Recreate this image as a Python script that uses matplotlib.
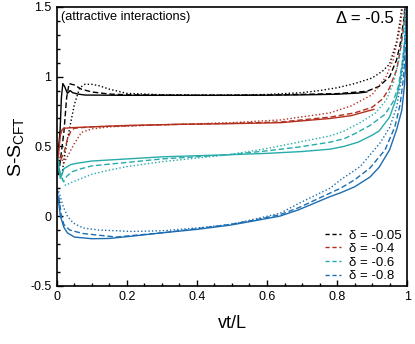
import numpy as np
import matplotlib
matplotlib.use("Agg")
import matplotlib.pyplot as plt
from matplotlib.ticker import MultipleLocator, FormatStrFormatter

plt.rcParams['font.family'] = ['Liberation Sans', 'DejaVu Sans']

# ---- data (vt/L, S - S_CFT) ----
deltas = ["-0.05", "-0.4", "-0.6", "-0.8"]
colors = ["black", "#b3301f", "#27abab", "#1c6db1"]

# black, delta = -0.05
blk_solid_x = [0.0, 0.003, 0.009, 0.013, 0.017, 0.022, 0.03, 0.038, 0.045, 0.06, 0.08, 0.2, 0.35, 0.5, 0.6, 0.7, 0.8, 0.86, 0.885]
blk_solid_y = [0.3, 0.45, 0.6, 0.85, 0.95, 0.93, 0.88, 0.9, 0.885, 0.875, 0.868, 0.866, 0.866, 0.866, 0.867, 0.869, 0.874, 0.882, 0.89]
blk_dash_x = [0.005, 0.01, 0.02, 0.028, 0.035, 0.05, 0.07, 0.1, 0.15, 0.2, 0.4, 0.6, 0.8, 0.85, 0.885, 0.92, 0.95, 0.97, 0.98, 0.99, 0.996]
blk_dash_y = [0.3, 0.4, 0.6, 0.85, 0.95, 0.94, 0.91, 0.89, 0.875, 0.87, 0.866, 0.868, 0.878, 0.888, 0.895, 0.93, 1.0, 1.12, 1.23, 1.4, 1.55]
blk_dot_x = [0.015, 0.02, 0.03, 0.05, 0.065, 0.08, 0.1, 0.12, 0.15, 0.2, 0.3, 0.5, 0.6, 0.7, 0.75, 0.8, 0.85, 0.9, 0.93, 0.95, 0.97, 0.98, 0.99]
blk_dot_y = [0.3, 0.4, 0.55, 0.8, 0.92, 0.945, 0.945, 0.935, 0.91, 0.88, 0.87, 0.868, 0.872, 0.885, 0.9, 0.92, 0.95, 0.99, 1.04, 1.09, 1.25, 1.4, 1.6]

# red, delta = -0.4
red_solid_x = [0.0, 0.005, 0.01, 0.015, 0.02, 0.05, 0.1, 0.2, 0.35, 0.5, 0.64, 0.7, 0.78, 0.84, 0.89, 0.905]
red_solid_y = [0.4, 0.45, 0.58, 0.62, 0.63, 0.635, 0.64, 0.65, 0.658, 0.663, 0.67, 0.683, 0.70, 0.72, 0.755, 0.765]
red_dash_x = [0.0, 0.01, 0.02, 0.03, 0.04, 0.05, 0.1, 0.3, 0.5, 0.64, 0.78, 0.85, 0.9, 0.93, 0.95, 0.97, 0.98, 0.99, 0.997]
red_dash_y = [0.45, 0.4, 0.45, 0.55, 0.61, 0.63, 0.64, 0.655, 0.665, 0.675, 0.71, 0.74, 0.78, 0.84, 0.92, 1.05, 1.18, 1.35, 1.55]
red_dot_x = [0.005, 0.02, 0.035, 0.05, 0.07, 0.1, 0.15, 0.3, 0.5, 0.64, 0.78, 0.84, 0.9, 0.94, 0.96, 0.97, 0.98, 0.99]
red_dot_y = [0.45, 0.38, 0.45, 0.52, 0.6, 0.625, 0.64, 0.655, 0.67, 0.69, 0.74, 0.79, 0.87, 1.0, 1.12, 1.23, 1.35, 1.55]

# teal, delta = -0.6
tea_solid_x = [0.0, 0.005, 0.01, 0.015, 0.02, 0.04, 0.06, 0.1, 0.2, 0.3, 0.49, 0.6, 0.7, 0.78, 0.82, 0.86, 0.9, 0.92, 0.95, 0.97, 0.98, 0.99, 0.995, 1.0]
tea_solid_y = [0.45, 0.35, 0.27, 0.3, 0.34, 0.37, 0.38, 0.395, 0.41, 0.425, 0.44, 0.45, 0.463, 0.48, 0.5, 0.53, 0.58, 0.61, 0.71, 0.85, 0.97, 1.15, 1.3, 1.55]
tea_dash_x = [0.0, 0.01, 0.018, 0.03, 0.045, 0.07, 0.1, 0.2, 0.3, 0.49, 0.6, 0.69, 0.78, 0.82, 0.85, 0.894, 0.937, 0.96, 0.975, 0.985, 0.993, 0.999]
tea_dash_y = [0.45, 0.3, 0.25, 0.29, 0.32, 0.34, 0.36, 0.385, 0.41, 0.44, 0.468, 0.495, 0.53, 0.555, 0.59, 0.65, 0.73, 0.82, 0.93, 1.08, 1.25, 1.55]
tea_dot_x = [0.0, 0.01, 0.025, 0.04, 0.06, 0.1, 0.15, 0.2, 0.3, 0.49, 0.6, 0.7, 0.78, 0.82, 0.866, 0.91, 0.94, 0.96, 0.975, 0.985, 0.995]
tea_dot_y = [0.45, 0.3, 0.22, 0.24, 0.26, 0.3, 0.33, 0.355, 0.39, 0.44, 0.485, 0.535, 0.575, 0.61, 0.67, 0.74, 0.83, 0.95, 1.1, 1.25, 1.55]

# blue, delta = -0.8
blu_solid_x = [0.0, 0.005, 0.01, 0.02, 0.03, 0.05, 0.1, 0.15, 0.21, 0.3, 0.4, 0.494, 0.55, 0.637, 0.69, 0.78, 0.81, 0.85, 0.894, 0.92, 0.95, 0.97, 0.985, 0.993, 0.998, 1.0]
blu_solid_y = [0.2, 0.1, 0.0, -0.08, -0.12, -0.15, -0.162, -0.16, -0.145, -0.12, -0.095, -0.065, -0.04, 0.0, 0.045, 0.14, 0.167, 0.21, 0.28, 0.35, 0.475, 0.62, 0.76, 0.95, 1.2, 1.55]
blu_dash_x = [0.0, 0.005, 0.013, 0.02, 0.037, 0.075, 0.17, 0.21, 0.3, 0.4, 0.494, 0.55, 0.637, 0.69, 0.78, 0.81, 0.85, 0.894, 0.937, 0.965, 0.98, 0.99, 0.996, 0.999]
blu_dash_y = [0.2, 0.15, 0.0, -0.06, -0.1, -0.125, -0.15, -0.14, -0.12, -0.09, -0.06, -0.035, 0.01, 0.06, 0.165, 0.2, 0.26, 0.345, 0.475, 0.64, 0.8, 1.0, 1.25, 1.55]
blu_dot_x = [0.0, 0.004, 0.018, 0.03, 0.047, 0.075, 0.12, 0.17, 0.21, 0.3, 0.4, 0.494, 0.55, 0.637, 0.69, 0.78, 0.81, 0.866, 0.923, 0.95, 0.97, 0.985, 0.993, 0.998]
blu_dot_y = [0.2, 0.19, 0.07, 0.0, -0.05, -0.085, -0.1, -0.105, -0.11, -0.105, -0.085, -0.06, -0.03, 0.02, 0.09, 0.2, 0.26, 0.355, 0.525, 0.635, 0.78, 1.0, 1.25, 1.55]

curves = [
    [(blk_solid_x, blk_solid_y), (blk_dash_x, blk_dash_y), (blk_dot_x, blk_dot_y)],
    [(red_solid_x, red_solid_y), (red_dash_x, red_dash_y), (red_dot_x, red_dot_y)],
    [(tea_solid_x, tea_solid_y), (tea_dash_x, tea_dash_y), (tea_dot_x, tea_dot_y)],
    [(blu_solid_x, blu_solid_y), (blu_dash_x, blu_dash_y), (blu_dot_x, blu_dot_y)],
]
styles = ['-', (0, (4, 2)), (0, (1, 1.6))]

fig = plt.figure(figsize=(4.15, 3.44), dpi=100)
ax = fig.add_axes([0.137, 0.169, 0.844, 0.811])

for color, delta, group in zip(colors, deltas, curves):
    for (xs, ys), ls in zip(group, styles):
        ax.plot(xs, ys, color=color, linestyle=ls, linewidth=1.0)
    # legend entry (dashed)
    ax.plot([], [], color=color, linestyle=(0, (3, 2)), linewidth=1.0,
            label="\u03b4 = " + delta)

ax.set_xlim(0, 1)
ax.set_ylim(-0.5, 1.5)
ax.xaxis.set_major_locator(MultipleLocator(0.2))
ax.xaxis.set_minor_locator(MultipleLocator(0.05))
ax.yaxis.set_major_locator(MultipleLocator(0.5))
ax.yaxis.set_minor_locator(MultipleLocator(0.1))
ax.xaxis.set_major_formatter(FormatStrFormatter('%g'))
ax.yaxis.set_major_formatter(FormatStrFormatter('%g'))
ax.tick_params(which='both', direction='in', top=False, right=False, labelsize=9, width=1.0)
ax.tick_params(which='major', length=4, pad=4)
ax.tick_params(which='minor', length=2.5)
for sp in ax.spines.values():
    sp.set_linewidth(1.2)

ax.set_xlabel("vt/L", fontsize=13, labelpad=8)
ax.set_ylabel("S-S$_{\\mathregular{CFT}}$", fontsize=14, labelpad=2)

ax.text(0.012, 0.985, "(attractive interactions)", transform=ax.transAxes,
        fontsize=9.2, ha='left', va='top')
ax.text(0.962, 0.985, "\u0394 = -0.5", transform=ax.transAxes,
        fontsize=12, ha='right', va='top')

ax.legend(loc='lower right', bbox_to_anchor=(1.01, -0.02), frameon=False,
          fontsize=9.5, handlelength=1.2, handletextpad=0.6, labelspacing=0.1,
          borderaxespad=0.3)

fig.savefig("out.png", dpi=100)
